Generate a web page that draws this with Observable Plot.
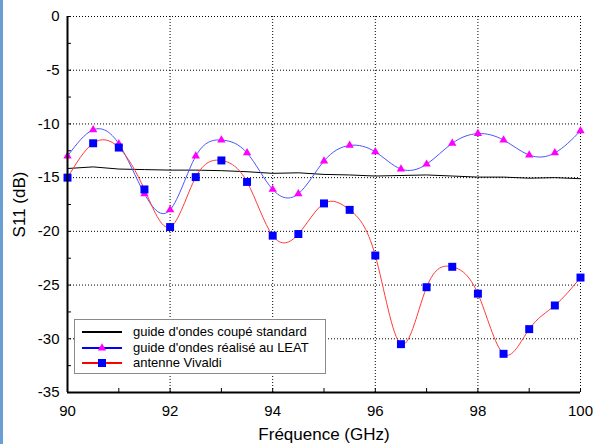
<!DOCTYPE html>
<html>
<head>
<meta charset="utf-8">
<script src="https://cdn.jsdelivr.net/npm/d3@7"></script>
<script src="https://cdn.jsdelivr.net/npm/@observablehq/plot@0.6"></script>
<style>
  html, body { margin: 0; padding: 0; background: #fff; }
  #wrap { position: relative; width: 596px; height: 444px; overflow: hidden; font-family: "Liberation Sans", Arial, sans-serif; }
  #strip { position: absolute; left: 0; top: 0; width: 3px; height: 444px; background: #6a9fd4; }
  #legend { position: absolute; left: 74px; top: 319px; width: 252px; height: 55px; border: 1px solid #8a8a8a; background: #fff; box-sizing: border-box; }
  .row { position: absolute; left: 0; height: 16px; width: 100%; }
  .row svg { position: absolute; left: 7px; top: 0; }
  .row span { position: absolute; left: 58px; top: 0; font-size: 13px; line-height: 16px; color: #000; white-space: nowrap; }
</style>
</head>
<body>
<div id="wrap"><div id="chart"></div><div id="strip"></div><div id="legend"></div></div>
<script>
// Frequency axis (GHz)
const freq = [90, 90.5, 91, 91.5, 92, 92.5, 93, 93.5, 94, 94.5, 95, 95.5, 96, 96.5, 97, 97.5, 98, 98.5, 99, 99.5, 100];
// guide d'ondes coupé standard (black)
const standard = [-14.15, -14.0, -14.2, -14.25, -14.3, -14.3, -14.35, -14.45, -14.6, -14.55, -14.7, -14.75, -14.85, -14.8, -14.75, -14.85, -14.95, -14.95, -15.05, -15.0, -15.1];
// guide d'ondes réalisé au LEAT (blue line, magenta triangles)
const leat = [-13.0, -10.55, -11.85, -16.5, -18.0, -13.0, -11.5, -12.7, -16.1, -16.5, -13.45, -12.0, -12.6, -14.2, -13.75, -11.8, -10.9, -11.5, -12.9, -12.7, -10.65];
// antenne Vivaldi (red line, blue squares)
const vivaldi = [-15.0, -11.8, -12.2, -16.1, -19.6, -14.95, -13.4, -15.4, -20.4, -20.25, -17.4, -18.0, -22.25, -30.5, -25.2, -23.3, -25.8, -31.4, -29.1, -26.9, -24.3];

const xTicks = [90, 92, 94, 96, 98, 100];
const xMinor = [90, 91, 92, 93, 94, 95, 96, 97, 98, 99, 100];
const yTicks = [0, -5, -10, -15, -20, -25, -30, -35];
const yMinor = [0, -2.5, -5, -7.5, -10, -12.5, -15, -17.5, -20, -22.5, -25, -27.5, -30, -32.5, -35];
const xLabel = "Fréquence (GHz)";
const yLabel = "S11 (dB)";
const legendLabels = ["guide d'ondes coupé standard", "guide d'ondes réalisé au LEAT", "antenne Vivaldi"];

const toRows = (vals) => freq.map((f, i) => ({f, v: vals[i]}));
const stdRows = toRows(standard), leatRows = toRows(leat), vivRows = toRows(vivaldi);

const W = 596, H = 444, mL = 67, mR = 16, mT = 16, mB = 52;
const frameW = W - mL - mR, frameH = H - mT - mB;

const chart = Plot.plot({
  width: W, height: H,
  marginLeft: mL, marginRight: mR, marginTop: mT, marginBottom: mB,
  style: {fontFamily: "'Liberation Sans', Arial, sans-serif", fontSize: "15px", background: "white", color: "black", overflow: "visible"},
  x: {domain: [90, 100]},
  y: {domain: [-35, 0]},
  marks: [
    Plot.gridX(xTicks.slice(1), {stroke: "black", strokeOpacity: 1, strokeDasharray: "1,2"}),
    Plot.gridY(yTicks.slice(0, -1), {stroke: "black", strokeOpacity: 1, strokeDasharray: "1,2"}),
    Plot.tickX(xMinor, {x: d => d, stroke: "black", insetTop: frameH - 4}),
    Plot.tickY(yMinor, {y: d => d, stroke: "black", insetRight: frameW - 4}),
    Plot.axisX({ticks: xTicks, tickSize: 0, tickPadding: 13, tickFormat: d => String(d), label: null, fontSize: 15}),
    Plot.axisY({ticks: yTicks, tickSize: 0, tickPadding: 8, tickFormat: d => String(d), label: null, fontSize: 15}),
    Plot.axisX({ticks: [], tickSize: 0, label: xLabel, labelAnchor: "center", labelArrow: "none", labelOffset: 47, fontSize: 17}),
    Plot.axisY({ticks: [], tickSize: 0, label: yLabel, labelAnchor: "center", labelArrow: "none", labelOffset: 55, fontSize: 17}),
    Plot.line(stdRows, {x: "f", y: "v", stroke: "black", strokeWidth: 1}),
    Plot.line(leatRows, {x: "f", y: "v", stroke: "#4a55ff", strokeWidth: 1, curve: "natural"}),
    Plot.line(vivRows, {x: "f", y: "v", stroke: "#ff3a3a", strokeWidth: 1, curve: "natural"}),
    Plot.dot(leatRows, {x: "f", y: "v", symbol: "triangle", r: 3.1, fill: "#ff00ff", stroke: "none"}),
    Plot.dot(vivRows, {x: "f", y: "v", symbol: "square", r: 4.5, fill: "#0000ff", stroke: "none"}),
    Plot.ruleX([90], {stroke: "black", strokeWidth: 2}),
    Plot.ruleY([-35], {stroke: "black", strokeWidth: 2})
  ]
});
document.getElementById("chart").appendChild(chart);

// Legend
const legend = document.getElementById("legend");
const legendStyles = [
  {stroke: "#000", marker: null},
  {stroke: "#0000ff", marker: "triangle", fill: "#ff00ff"},
  {stroke: "#ff0000", marker: "square", fill: "#0000ff"}
];
legendLabels.forEach((lab, i) => {
  const row = document.createElement("div");
  row.className = "row";
  row.style.top = (4 + i * 15.6) + "px";
  const s = legendStyles[i];
  let m = "";
  if (s.marker === "triangle") m = `<path d="${d3.symbol(d3.symbolTriangle, Math.PI * 3.1 * 3.1)()}" transform="translate(20,8)" fill="${s.fill}"/>`;
  if (s.marker === "square") m = `<path d="${d3.symbol(d3.symbolSquare, Math.PI * 4.5 * 4.5)()}" transform="translate(20,8)" fill="${s.fill}"/>`;
  row.innerHTML = `<svg width="42" height="16"><line x1="0" x2="40" y1="8" y2="8" stroke="${s.stroke}" stroke-width="2"/>${m}</svg><span>${lab}</span>`;
  legend.appendChild(row);
});
</script>
</body>
</html>
